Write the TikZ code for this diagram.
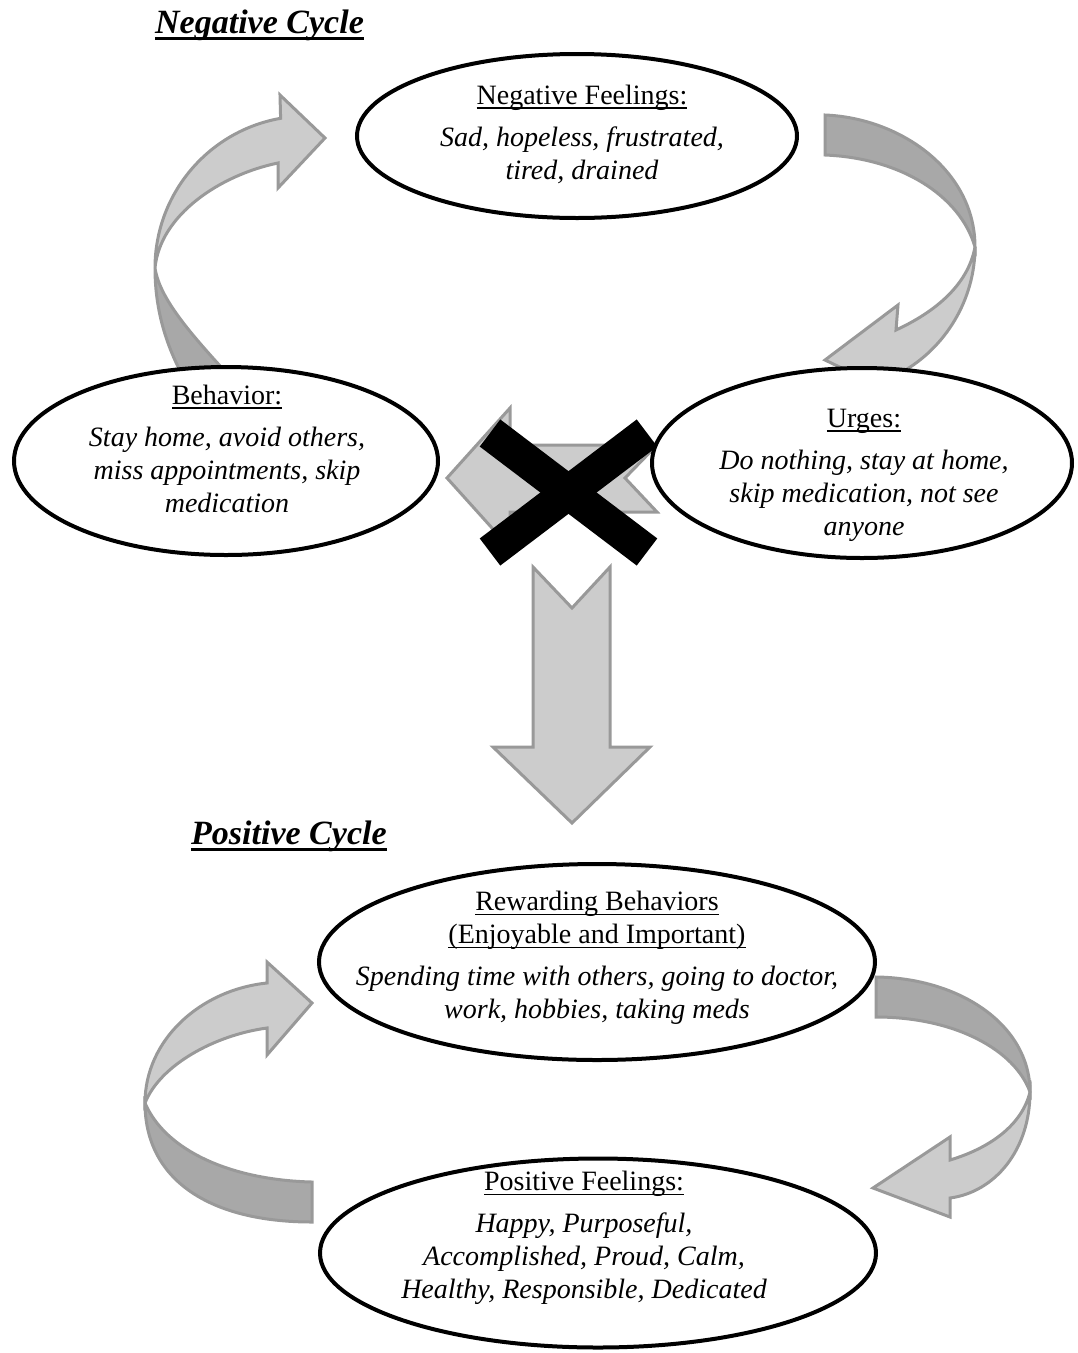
\documentclass[tikz,border=0pt]{standalone}
\usepackage{fontspec}
\setmainfont{Liberation Serif}
\usepackage{tikz}
\usetikzlibrary{shapes.geometric}
\definecolor{bandlight}{gray}{0.8}
\definecolor{banddark}{gray}{0.66}
\definecolor{bandedge}{gray}{0.6}
\newcommand\headul[1]{\setbox0\hbox{#1}\rlap{\rule[-4.5pt]{\wd0}{1.6pt}}\box0}
\newcommand\titleul[1]{\setbox0\hbox{#1}\rlap{\rule[-7pt]{\wd0}{3pt}}\box0}
\tikzset{
  cycell/.style={ellipse, draw=black, line width=4pt, fill=white, inner sep=0pt},
  cyctext/.style={align=center, inner sep=0pt, font=\fontsize{28}{33}\selectfont\itshape},
  cyctitle/.style={anchor=base west, inner sep=0pt, font=\fontsize{34}{40}\selectfont\bfseries\itshape},
  bandfront/.style={fill=bandlight, draw=bandedge, line width=3pt},
  bandback/.style={fill=banddark, draw=bandedge, line width=3pt},
  crossbar/.style={line width=34pt, draw=black},
}

\begin{document}
\begin{tikzpicture}[x=1pt,y=-1pt]
\useasboundingbox (0,0) rectangle (1078,1353);

\path[bandback] (155,268) .. controls (155,310) and (166,350) .. (192,392) -- (244,392) .. controls (198,342) and (160,302) .. (155,268) -- cycle;
\path[bandfront] (155,268) arc[start angle=180, end angle=260, radius=152] -- (280,95) -- (325,138) -- (278,188) -- (278,163) .. controls (220,175) and (160,215) .. (155,268) -- cycle;

\path[bandback] (825,115) .. controls (900,118) and (975,170) .. (975,247) .. controls (960,195) and (900,158) .. (825,155) -- cycle;
\path[bandfront] (975,247) .. controls (975,300) and (945,348) .. (902,372) -- (904,398) -- (825,360) -- (898,305) -- (896,330) .. controls (935,312) and (968,285) .. (975,247) -- cycle;

\path[bandback] (145,1103) .. controls (145,1180) and (210,1222) .. (312,1222) -- (312,1182) .. controls (230,1180) and (165,1150) .. (145,1103) -- cycle;
\path[bandfront] (145,1103) .. controls (145,1040) and (200,990) .. (267,983) -- (267,962) -- (312,1003) -- (267,1055) -- (267,1028) .. controls (215,1035) and (160,1065) .. (145,1103) -- cycle;

\path[bandback] (876,977) .. controls (960,978) and (1030,1025) .. (1030,1092) .. controls (1015,1050) and (955,1017) .. (876,1017) -- cycle;
\path[bandfront] (1030,1092) .. controls (1030,1150) and (995,1192) .. (950,1198) -- (950,1217) -- (873,1188) -- (950,1137) -- (950,1160) .. controls (990,1148) and (1022,1125) .. (1030,1092) -- cycle;

\path[bandfront] (447,478) -- (510,408) -- (510,445) -- (657,445) -- (625,478) -- (657,512) -- (510,512) -- (510,548) -- cycle;
\path[bandfront] (533,567) -- (572,608) -- (610,567) -- (610,747) -- (650,747) -- (572,823) -- (493,747) -- (533,747) -- cycle;

\draw[crossbar] (490,433) -- (647,552);
\draw[crossbar] (647,433) -- (490,552);

\node[cycell, minimum width=440pt, minimum height=164pt] (negfeel) at (577,136) {};
\node[cycell, minimum width=424pt, minimum height=188pt] (behav) at (226,461) {};
\node[cycell, minimum width=420pt, minimum height=190pt] (urges) at (862,463) {};
\node[cycell, minimum width=556pt, minimum height=196pt] (reward) at (597,962) {};
\node[cycell, minimum width=556pt, minimum height=189pt] (posfeel) at (598,1253) {};

\node[cyctext] (negfeeltext) at (582,134) {\textup{\headul{Negative Feelings:}}\\[9pt] Sad, hopeless, frustrated,\\ tired, drained};
\node[cyctext] (behavtext) at (227,449) {\textup{\headul{Behavior:}}\\[9pt] Stay home, avoid others,\\ miss appointments, skip\\ medication};
\node[cyctext] (urgestext) at (864,475) {\textup{\headul{Urges:}}\\[9pt] Do nothing, stay at home,\\ skip medication, not see\\ anyone};
\node[cyctext] (rewardtext) at (597,958) {\textup{\headul{Rewarding Behaviors}}\\ \textup{\headul{(Enjoyable and Important)}}\\[9pt] Spending time with others, going to doctor,\\ work, hobbies, taking meds};
\node[cyctext] (posfeeltext) at (584,1238) {\textup{\headul{Positive Feelings:}}\\[9pt] Happy, Purposeful,\\ Accomplished, Proud, Calm,\\ Healthy, Responsible, Dedicated};

\node[cyctitle] (negtitle) at (155,33) {\titleul{Negative Cycle}};
\node[cyctitle] (postitle) at (191,844) {\titleul{Positive Cycle}};
\end{tikzpicture}
\end{document}
